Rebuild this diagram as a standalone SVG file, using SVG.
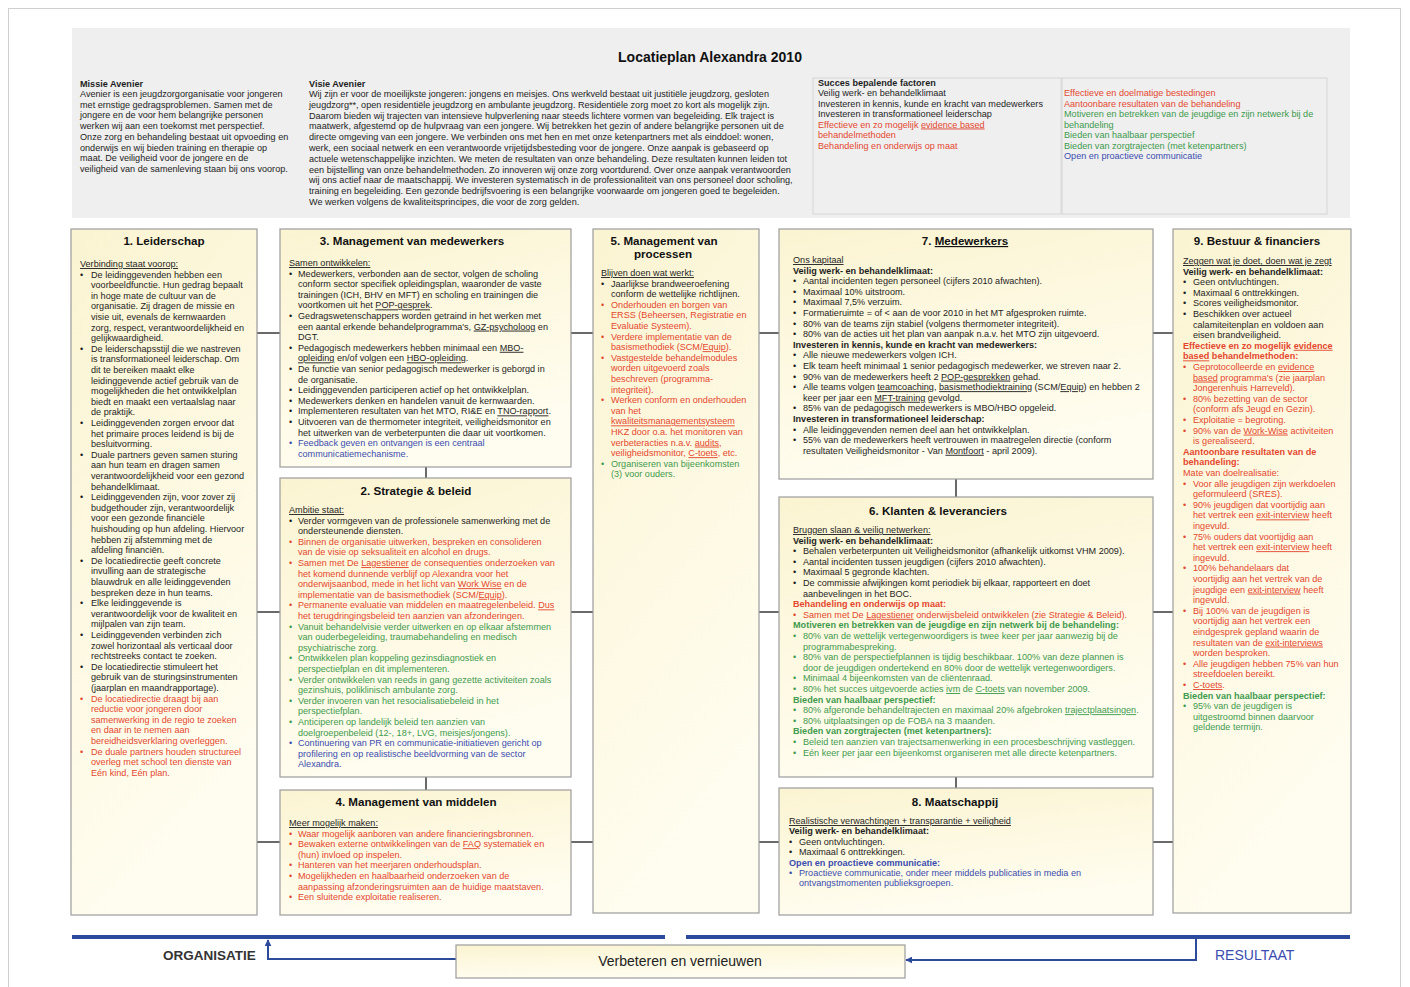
<svg xmlns="http://www.w3.org/2000/svg" width="1410" height="987" viewBox="0 0 1410 987">
<defs>
<linearGradient id="cream" x1="0" y1="0" x2="0.3" y2="1">
<stop offset="0" stop-color="#fbf4d2"/>
<stop offset="1" stop-color="#fffdf0"/>
</linearGradient>
<marker id="ah" viewBox="0 0 10 10" refX="9" refY="5" markerWidth="7" markerHeight="7" markerUnits="userSpaceOnUse" orient="auto">
<path d="M0,0 L10,5 L0,10 z" fill="#2d4b9b"/>
</marker>
<style>
.t{font-family:"Liberation Sans",Arial,sans-serif;font-size:9.1px;fill:#1e1e1e}
.hd{font-family:"Liberation Sans",Arial,sans-serif;font-size:11.6px;font-weight:bold;fill:#111;text-anchor:middle}
.b{font-weight:bold}
.r{fill:#e4472f}
.g{fill:#3d9a4e}
.u{fill:#3a4caf}
.ul{text-decoration:underline}
.sp{text-decoration:underline;text-decoration-color:#e03a3a}
.box{fill:url(#cream);stroke:#9c9c9c;stroke-width:1.2}
.con{stroke:#444;stroke-width:1.6;fill:none}
.flow{stroke:#2d4b9b;stroke-width:2;fill:none}
.bar{stroke:#2b4a9b;stroke-width:4}
</style>
</defs>
<rect x="0" y="0" width="1410" height="987" fill="#ffffff"/>
<rect x="8.5" y="8.5" width="1392" height="990" fill="none" stroke="#cfcfcf"/>

<g id="header">
<rect x="72" y="28" width="1278" height="190" fill="#efefef"/>
<rect x="813" y="78" width="248" height="136" fill="none" stroke="#d6d6d6"/>
<rect x="1062" y="78" width="265" height="136" fill="none" stroke="#d6d6d6"/>
<text x="710" y="62" font-family="Liberation Sans, Arial, sans-serif" font-size="14" font-weight="bold" fill="#111" text-anchor="middle">Locatieplan Alexandra 2010</text>
<text class="t" y="87">
<tspan x="80" class="b">Missie Avenier</tspan>
<tspan x="80" dy="10">Avenier is een jeugdzorgorganisatie voor jongeren</tspan>
<tspan x="80" dy="10.7">met ernstige gedragsproblemen. Samen met de</tspan>
<tspan x="80" dy="10.7">jongere en de voor hem belangrijke personen</tspan>
<tspan x="80" dy="10.7">werken wij aan een toekomst met perspectief.</tspan>
<tspan x="80" dy="10.7">Onze zorg en behandeling bestaat uit opvoeding en</tspan>
<tspan x="80" dy="10.7">onderwijs en wij bieden training en therapie op</tspan>
<tspan x="80" dy="10.7">maat.   De veiligheid voor de jongere en de</tspan>
<tspan x="80" dy="10.7">veiligheid van de samenleving staan bij ons voorop.</tspan>
</text>
<text class="t" y="87" font-size="9">
<tspan x="309" class="b">Visie Avenier</tspan>
<tspan x="309" dy="10">Wij zijn er voor de moeilijkste jongeren: jongens en meisjes. Ons werkveld bestaat uit justitiële jeugdzorg, gesloten</tspan>
<tspan x="309" dy="10.8">jeugdzorg**, open residentiële jeugdzorg en ambulante jeugdzorg. Residentiële zorg moet zo kort als mogelijk zijn.</tspan>
<tspan x="309" dy="10.8">Daarom bieden wij trajecten van intensieve hulpverlening naar steeds lichtere vormen van begeleiding. Elk traject is</tspan>
<tspan x="309" dy="10.8">maatwerk, afgestemd op de hulpvraag van een jongere. Wij betrekken het gezin of andere belangrijke personen uit de</tspan>
<tspan x="309" dy="10.8">directe omgeving van een jongere. We verbinden ons met hen en met onze ketenpartners met als einddoel: wonen,</tspan>
<tspan x="309" dy="10.8">werk, een sociaal netwerk en een verantwoorde vrijetijdsbesteding voor de jongere. Onze aanpak is gebaseerd op</tspan>
<tspan x="309" dy="10.8">actuele wetenschappelijke inzichten. We meten de resultaten van onze behandeling. Deze resultaten kunnen leiden tot</tspan>
<tspan x="309" dy="10.8">een bijstelling van onze behandelmethoden. Zo innoveren wij onze zorg voortdurend. Over onze aanpak verantwoorden</tspan>
<tspan x="309" dy="10.8">wij ons actief naar de maatschappij. We investeren systematisch in de professionaliteit van ons personeel door scholing,</tspan>
<tspan x="309" dy="10.8">training en begeleiding. Een gezonde bedrijfsvoering is een belangrijke voorwaarde om jongeren goed te begeleiden.</tspan>
<tspan x="309" dy="10.8">We werken volgens de kwaliteitsprincipes, die voor de zorg gelden.</tspan>
</text>
<text class="t" y="86">
<tspan x="818" class="b">Succes bepalende factoren</tspan>
<tspan x="818" dy="10">Veilig werk- en behandelklimaat</tspan>
<tspan x="818" dy="10.5">Investeren in kennis, kunde en kracht van medewerkers</tspan>
<tspan x="818" dy="10.5">Investeren in transformationeel leiderschap</tspan>
<tspan x="818" dy="10.5" class="r">Effectieve en zo mogelijk <tspan class="sp">evidence based</tspan></tspan>
<tspan x="818" dy="10.5" class="r">behandelmethoden</tspan>
<tspan x="818" dy="10.5" class="r">Behandeling en onderwijs op maat</tspan>
</text>
<text class="t" y="96">
<tspan x="1064" class="r">Effectieve en doelmatige bestedingen</tspan>
<tspan x="1064" dy="10.5" class="r">Aantoonbare resultaten van de behandeling</tspan>
<tspan x="1064" dy="10.5" class="g">Motiveren en betrekken van de jeugdige en zijn netwerk bij de</tspan>
<tspan x="1064" dy="10.5" class="g">behandeling</tspan>
<tspan x="1064" dy="10.5" class="g">Bieden van haalbaar perspectief</tspan>
<tspan x="1064" dy="10.5" class="g">Bieden van zorgtrajecten (met ketenpartners)</tspan>
<tspan x="1064" dy="10.5" class="u">Open en proactieve communicatie</tspan>
</text>
</g>

<g id="connectors">
<line class="con" x1="257" y1="333" x2="280" y2="333"/>
<line class="con" x1="257" y1="612" x2="280" y2="612"/>
<line class="con" x1="257" y1="842" x2="280" y2="842"/>
<line class="con" x1="571" y1="333" x2="593" y2="333"/>
<line class="con" x1="571" y1="612" x2="593" y2="612"/>
<line class="con" x1="571" y1="842" x2="593" y2="842"/>
<line class="con" x1="759" y1="333" x2="779" y2="333"/>
<line class="con" x1="759" y1="612" x2="779" y2="612"/>
<line class="con" x1="759" y1="842" x2="779" y2="842"/>
<line class="con" x1="1153" y1="333" x2="1173" y2="333"/>
<line class="con" x1="1153" y1="612" x2="1173" y2="612"/>
<line class="con" x1="1153" y1="842" x2="1173" y2="842"/>
<line class="con" x1="426" y1="467" x2="426" y2="478"/>
<line class="con" x1="426" y1="777" x2="426" y2="790"/>
<line class="con" x1="956" y1="479" x2="956" y2="497"/>
<line class="con" x1="956" y1="777" x2="956" y2="788"/>
<line class="bar" x1="72" y1="937" x2="665" y2="937"/>
<line class="bar" x1="686" y1="937" x2="1350" y2="937"/>
<path class="flow" d="M1196 939 V960 H906" marker-end="url(#ah)"/>
<path class="flow" d="M456 959 H268 V940" marker-end="url(#ah)"/>
</g>

<g id="n1">
<rect class="box" x="71" y="229" width="186" height="686"/>
<text class="hd" x="164" y="245">1. Leiderschap</text>
<text class="t" y="267">
<tspan x="80" class="ul">Verbinding staat voorop:</tspan>
<tspan x="80" dy="10.6">•</tspan><tspan x="91">De leidinggevenden hebben een</tspan>
<tspan x="91" dy="10.6">voorbeeldfunctie. Hun gedrag bepaalt</tspan>
<tspan x="91" dy="10.6">in hoge mate de cultuur van de</tspan>
<tspan x="91" dy="10.6">organisatie. Zij dragen de missie en</tspan>
<tspan x="91" dy="10.6">visie uit, evenals de kernwaarden</tspan>
<tspan x="91" dy="10.6">zorg, respect, verantwoordelijkheid en</tspan>
<tspan x="91" dy="10.6">gelijkwaardigheid.</tspan>
<tspan x="80" dy="10.6">•</tspan><tspan x="91">De leiderschapsstijl die we nastreven</tspan>
<tspan x="91" dy="10.6">is transformationeel leiderschap. Om</tspan>
<tspan x="91" dy="10.6">dit te bereiken maakt elke</tspan>
<tspan x="91" dy="10.6">leidinggevende actief gebruik van de</tspan>
<tspan x="91" dy="10.6">mogelijkheden die het ontwikkelplan</tspan>
<tspan x="91" dy="10.6">biedt en maakt een vertaalslag naar</tspan>
<tspan x="91" dy="10.6">de praktijk.</tspan>
<tspan x="80" dy="10.6">•</tspan><tspan x="91">Leidinggevenden zorgen ervoor dat</tspan>
<tspan x="91" dy="10.6">het primaire proces leidend is bij de</tspan>
<tspan x="91" dy="10.6">besluitvorming.</tspan>
<tspan x="80" dy="10.6">•</tspan><tspan x="91">Duale partners geven samen sturing</tspan>
<tspan x="91" dy="10.6">aan hun team en dragen samen</tspan>
<tspan x="91" dy="10.6">verantwoordelijkheid voor een gezond</tspan>
<tspan x="91" dy="10.6">behandelklimaat.</tspan>
<tspan x="80" dy="10.6">•</tspan><tspan x="91">Leidinggevenden zijn, voor zover zij</tspan>
<tspan x="91" dy="10.6">budgethouder zijn, verantwoordelijk</tspan>
<tspan x="91" dy="10.6">voor een gezonde financiële</tspan>
<tspan x="91" dy="10.6">huishouding op hun afdeling. Hiervoor</tspan>
<tspan x="91" dy="10.6">hebben zij afstemming met de</tspan>
<tspan x="91" dy="10.6">afdeling financiën.</tspan>
<tspan x="80" dy="10.6">•</tspan><tspan x="91">De locatiedirectie geeft concrete</tspan>
<tspan x="91" dy="10.6">invulling aan de strategische</tspan>
<tspan x="91" dy="10.6">blauwdruk en alle leidinggevenden</tspan>
<tspan x="91" dy="10.6">bespreken deze in hun teams.</tspan>
<tspan x="80" dy="10.6">•</tspan><tspan x="91">Elke leidinggevende is</tspan>
<tspan x="91" dy="10.6">verantwoordelijk voor de kwaliteit en</tspan>
<tspan x="91" dy="10.6">mijlpalen van zijn team.</tspan>
<tspan x="80" dy="10.6">•</tspan><tspan x="91">Leidinggevenden verbinden zich</tspan>
<tspan x="91" dy="10.6">zowel horizontaal als verticaal door</tspan>
<tspan x="91" dy="10.6">rechtstreeks contact te zoeken.</tspan>
<tspan x="80" dy="10.6">•</tspan><tspan x="91">De locatiedirectie stimuleert het</tspan>
<tspan x="91" dy="10.6">gebruik van de sturingsinstrumenten</tspan>
<tspan x="91" dy="10.6">(jaarplan en maandrapportage).</tspan>
<tspan x="80" dy="10.6" class="r">•</tspan><tspan x="91" class="r">De locatiedirectie draagt bij aan</tspan>
<tspan x="91" dy="10.6" class="r">reductie voor jongeren door</tspan>
<tspan x="91" dy="10.6" class="r">samenwerking in de regio te zoeken</tspan>
<tspan x="91" dy="10.6" class="r">en daar in te nemen aan</tspan>
<tspan x="91" dy="10.6" class="r">bereidheidsverklaring overleggen.</tspan>
<tspan x="80" dy="10.6" class="r">•</tspan><tspan x="91" class="r">De duale partners houden structureel</tspan>
<tspan x="91" dy="10.6" class="r">overleg met school ten dienste van</tspan>
<tspan x="91" dy="10.6" class="r">Eén kind, Eén plan.</tspan>
</text>
</g>

<g id="n3">
<rect class="box" x="280" y="229" width="291" height="238"/>
<text class="hd" x="412" y="245">3. Management van medewerkers</text>
<text class="t" y="266">
<tspan x="289" class="ul">Samen ontwikkelen:</tspan>
<tspan x="289" dy="10.6">•</tspan><tspan x="298">Medewerkers, verbonden aan de sector, volgen de scholing</tspan>
<tspan x="298" dy="10.6">conform sector specifiek opleidingsplan, waaronder de vaste</tspan>
<tspan x="298" dy="10.6">trainingen (ICH, BHV en MFT) en scholing en trainingen die</tspan>
<tspan x="298" dy="10.6">voortkomen uit het <tspan class="sp">POP-gesprek</tspan>.</tspan>
<tspan x="289" dy="10.6">•</tspan><tspan x="298">Gedragswetenschappers worden getraind in het werken met</tspan>
<tspan x="298" dy="10.6">een aantal erkende behandelprogramma's, <tspan class="sp">GZ-psycholoog</tspan> en</tspan>
<tspan x="298" dy="10.6">DGT.</tspan>
<tspan x="289" dy="10.6">•</tspan><tspan x="298">Pedagogisch medewerkers hebben minimaal een <tspan class="sp">MBO-</tspan></tspan>
<tspan x="298" dy="10.6"><tspan class="sp">opleiding</tspan> en/of volgen een <tspan class="sp">HBO-opleiding</tspan>.</tspan>
<tspan x="289" dy="10.6">•</tspan><tspan x="298">De functie van senior pedagogisch medewerker is geborgd in</tspan>
<tspan x="298" dy="10.6">de organisatie.</tspan>
<tspan x="289" dy="10.6">•</tspan><tspan x="298">Leidinggevenden participeren actief op het ontwikkelplan.</tspan>
<tspan x="289" dy="10.6">•</tspan><tspan x="298">Medewerkers denken en handelen vanuit de kernwaarden.</tspan>
<tspan x="289" dy="10.6">•</tspan><tspan x="298">Implementeren resultaten van het MTO, RI&amp;E en <tspan class="sp">TNO-rapport</tspan>.</tspan>
<tspan x="289" dy="10.6">•</tspan><tspan x="298">Uitvoeren van de thermometer integriteit, veiligheidsmonitor en</tspan>
<tspan x="298" dy="10.6">het uitwerken van de verbeterpunten die daar uit voortkomen.</tspan>
<tspan x="289" dy="10.6" class="u">•</tspan><tspan x="298" class="u">Feedback geven en ontvangen is een centraal</tspan>
<tspan x="298" dy="10.6" class="u">communicatiemechanisme.</tspan>
</text>
</g>

<g id="n2">
<rect class="box" x="280" y="478" width="291" height="299"/>
<text class="hd" x="416" y="495">2. Strategie &amp; beleid</text>
<text class="t" y="513">
<tspan x="289" class="ul">Ambitie staat:</tspan>
<tspan x="289" dy="10.6">•</tspan><tspan x="298">Verder vormgeven van de professionele samenwerking met de</tspan>
<tspan x="298" dy="10.6">ondersteunende diensten.</tspan>
<tspan x="289" dy="10.6" class="r">•</tspan><tspan x="298" class="r">Binnen de organisatie uitwerken, bespreken en consolideren</tspan>
<tspan x="298" dy="10.6" class="r">van de visie op seksualiteit en alcohol en drugs.</tspan>
<tspan x="289" dy="10.6" class="r">•</tspan><tspan x="298" class="r">Samen met De <tspan class="sp">Lagestiener</tspan> de consequenties onderzoeken van</tspan>
<tspan x="298" dy="10.6" class="r">het komend dunnende verblijf op Alexandra voor het</tspan>
<tspan x="298" dy="10.6" class="r">onderwijsaanbod, mede in het licht van <tspan class="sp">Work Wise</tspan> en de</tspan>
<tspan x="298" dy="10.6" class="r">implementatie van de basismethodiek (SCM/<tspan class="sp">Equip</tspan>).</tspan>
<tspan x="289" dy="10.6" class="r">•</tspan><tspan x="298" class="r">Permanente evaluatie van middelen en maatregelenbeleid. <tspan class="sp">Dus</tspan></tspan>
<tspan x="298" dy="10.6" class="r">het terugdringingsbeleid ten aanzien van afzonderingen.</tspan>
<tspan x="289" dy="10.6" class="g">•</tspan><tspan x="298" class="g">Vanuit behandelvisie verder uitwerken en op elkaar afstemmen</tspan>
<tspan x="298" dy="10.6" class="g">van ouderbegeleiding, traumabehandeling en medisch</tspan>
<tspan x="298" dy="10.6" class="g">psychiatrische zorg.</tspan>
<tspan x="289" dy="10.6" class="g">•</tspan><tspan x="298" class="g">Ontwikkelen plan koppeling gezinsdiagnostiek en</tspan>
<tspan x="298" dy="10.6" class="g">perspectiefplan en dit implementeren.</tspan>
<tspan x="289" dy="10.6" class="g">•</tspan><tspan x="298" class="g">Verder ontwikkelen van reeds in gang gezette activiteiten zoals</tspan>
<tspan x="298" dy="10.6" class="g">gezinshuis, poliklinisch ambulante zorg.</tspan>
<tspan x="289" dy="10.6" class="g">•</tspan><tspan x="298" class="g">Verder invoeren van het resocialisatiebeleid in het</tspan>
<tspan x="298" dy="10.6" class="g">perspectiefplan.</tspan>
<tspan x="289" dy="10.6" class="g">•</tspan><tspan x="298" class="g">Anticiperen op landelijk beleid ten aanzien van</tspan>
<tspan x="298" dy="10.6" class="g">doelgroepenbeleid (12-, 18+, LVG, meisjes/jongens).</tspan>
<tspan x="289" dy="10.6" class="u">•</tspan><tspan x="298" class="u">Continuering van PR en communicatie-initiatieven gericht op</tspan>
<tspan x="298" dy="10.6" class="u">profilering en op realistische beeldvorming van de sector</tspan>
<tspan x="298" dy="10.6" class="u">Alexandra.</tspan>
</text>
</g>

<g id="n4">
<rect class="box" x="280" y="790" width="291" height="125"/>
<text class="hd" x="416" y="806">4. Management van middelen</text>
<text class="t" y="826">
<tspan x="289" class="ul">Meer mogelijk maken:</tspan>
<tspan x="289" dy="10.6" class="r">•</tspan><tspan x="298" class="r">Waar mogelijk aanboren van andere financieringsbronnen.</tspan>
<tspan x="289" dy="10.6" class="r">•</tspan><tspan x="298" class="r">Bewaken externe ontwikkelingen van de <tspan class="sp">FAQ</tspan> systematiek en</tspan>
<tspan x="298" dy="10.6" class="r">(hun) invloed op inspelen.</tspan>
<tspan x="289" dy="10.6" class="r">•</tspan><tspan x="298" class="r">Hanteren van het meerjaren onderhoudsplan.</tspan>
<tspan x="289" dy="10.6" class="r">•</tspan><tspan x="298" class="r">Mogelijkheden en haalbaarheid onderzoeken van de</tspan>
<tspan x="298" dy="10.6" class="r">aanpassing afzonderingsruimten aan de huidige maatstaven.</tspan>
<tspan x="289" dy="10.6" class="r">•</tspan><tspan x="298" class="r">Een sluitende exploitatie realiseren.</tspan>
</text>
</g>

<g id="n5">
<rect class="box" x="593" y="229" width="166" height="684"/>
<text class="hd" x="664" y="245">5. Management van</text>
<text class="hd" x="663" y="258">processen</text>
<text class="t" y="276">
<tspan x="601" class="ul">Blijven doen wat werkt:</tspan>
<tspan x="601" dy="10.6">•</tspan><tspan x="611">Jaarlijkse brandweeroefening</tspan>
<tspan x="611" dy="10.6">conform de wettelijke richtlijnen.</tspan>
<tspan x="601" dy="10.6" class="r">•</tspan><tspan x="611" class="r">Onderhouden en borgen van</tspan>
<tspan x="611" dy="10.6" class="r">ERSS (Beheersen, Registratie en</tspan>
<tspan x="611" dy="10.6" class="r">Evaluatie Systeem).</tspan>
<tspan x="601" dy="10.6" class="r">•</tspan><tspan x="611" class="r">Verdere implementatie van de</tspan>
<tspan x="611" dy="10.6" class="r">basismethodiek (SCM/<tspan class="sp">Equip</tspan>).</tspan>
<tspan x="601" dy="10.6" class="r">•</tspan><tspan x="611" class="r">Vastgestelde behandelmodules</tspan>
<tspan x="611" dy="10.6" class="r">worden uitgevoerd zoals</tspan>
<tspan x="611" dy="10.6" class="r">beschreven (programma-</tspan>
<tspan x="611" dy="10.6" class="r">integriteit).</tspan>
<tspan x="601" dy="10.6" class="r">•</tspan><tspan x="611" class="r">Werken conform en onderhouden</tspan>
<tspan x="611" dy="10.6" class="r">van het</tspan>
<tspan x="611" dy="10.6" class="r"><tspan class="sp">kwaliteitsmanagementsysteem</tspan></tspan>
<tspan x="611" dy="10.6" class="r">HKZ door o.a. het monitoren van</tspan>
<tspan x="611" dy="10.6" class="r">verbeteracties n.a.v. <tspan class="sp">audits</tspan>,</tspan>
<tspan x="611" dy="10.6" class="r">veiligheidsmonitor, <tspan class="sp">C-toets</tspan>, etc.</tspan>
<tspan x="601" dy="10.6" class="g">•</tspan><tspan x="611" class="g">Organiseren van bijeenkomsten</tspan>
<tspan x="611" dy="10.6" class="g">(3) voor ouders.</tspan>
</text>
</g>

<g id="n7">
<rect class="box" x="779" y="229" width="374" height="250"/>
<text class="hd" x="965" y="245">7. <tspan class="sp">Medewerkers</tspan></text>
<text class="t" y="263">
<tspan x="793" class="ul">Ons kapitaal</tspan>
<tspan x="793" dy="10.6" class="b">Veilig werk- en behandelklimaat:</tspan>
<tspan x="793" dy="10.6">•</tspan><tspan x="803">Aantal incidenten tegen personeel (cijfers 2010 afwachten).</tspan>
<tspan x="793" dy="10.6">•</tspan><tspan x="803">Maximaal 10% uitstroom.</tspan>
<tspan x="793" dy="10.6">•</tspan><tspan x="803">Maximaal 7,5% verzuim.</tspan>
<tspan x="793" dy="10.6">•</tspan><tspan x="803">Formatieruimte = of &lt; aan de voor 2010 in het MT afgesproken ruimte.</tspan>
<tspan x="793" dy="10.6">•</tspan><tspan x="803">80% van de teams zijn stabiel (volgens thermometer integriteit).</tspan>
<tspan x="793" dy="10.6">•</tspan><tspan x="803">80% van de acties uit het plan van aanpak n.a.v. het MTO zijn uitgevoerd.</tspan>
<tspan x="793" dy="10.6" class="b">Investeren in kennis, kunde en kracht van medewerkers:</tspan>
<tspan x="793" dy="10.6">•</tspan><tspan x="803">Alle nieuwe medewerkers volgen ICH.</tspan>
<tspan x="793" dy="10.6">•</tspan><tspan x="803">Elk team heeft minimaal 1 senior pedagogisch medewerker, we streven naar 2.</tspan>
<tspan x="793" dy="10.6">•</tspan><tspan x="803">90% van de medewerkers heeft 2 <tspan class="sp">POP-gesprekken</tspan> gehad.</tspan>
<tspan x="793" dy="10.6">•</tspan><tspan x="803">Alle teams volgen <tspan class="sp">teamcoaching</tspan>, <tspan class="sp">basismethodiektraining</tspan> (SCM/<tspan class="sp">Equip</tspan>) en hebben 2</tspan>
<tspan x="803" dy="10.6">keer per jaar een <tspan class="sp">MFT-training</tspan> gevolgd.</tspan>
<tspan x="793" dy="10.6">•</tspan><tspan x="803">85% van de pedagogisch medewerkers is MBO/HBO opgeleid.</tspan>
<tspan x="793" dy="10.6" class="b">Investeren in transformationeel leiderschap:</tspan>
<tspan x="793" dy="10.6">•</tspan><tspan x="803">Alle leidinggevenden nemen deel aan het ontwikkelplan.</tspan>
<tspan x="793" dy="10.6">•</tspan><tspan x="803">55% van de medewerkers heeft vertrouwen in maatregelen directie (conform</tspan>
<tspan x="803" dy="10.6">resultaten Veiligheidsmonitor - Van <tspan class="sp">Montfoort</tspan> - april 2009).</tspan>
</text>
</g>

<g id="n6">
<rect class="box" x="779" y="497" width="374" height="280"/>
<text class="hd" x="938" y="515">6. Klanten &amp; leveranciers</text>
<text class="t" y="533">
<tspan x="793" class="ul">Bruggen slaan &amp; veilig netwerken:</tspan>
<tspan x="793" dy="10.6" class="b">Veilig werk- en behandelklimaat:</tspan>
<tspan x="793" dy="10.6">•</tspan><tspan x="803">Behalen verbeterpunten uit Veiligheidsmonitor (afhankelijk uitkomst VHM 2009).</tspan>
<tspan x="793" dy="10.6">•</tspan><tspan x="803">Aantal incidenten tussen jeugdigen (cijfers 2010 afwachten).</tspan>
<tspan x="793" dy="10.6">•</tspan><tspan x="803">Maximaal 5 gegronde klachten.</tspan>
<tspan x="793" dy="10.6">•</tspan><tspan x="803">De commissie afwijkingen komt periodiek bij elkaar, rapporteert en doet</tspan>
<tspan x="803" dy="10.6">aanbevelingen in het BOC.</tspan>
<tspan x="793" dy="10.6" class="b r">Behandeling en onderwijs op maat:</tspan>
<tspan x="793" dy="10.6" class="r">•</tspan><tspan x="803" class="r">Samen met De <tspan class="sp">Lagestiener</tspan> onderwijsbeleid ontwikkelen (zie Strategie &amp; Beleid).</tspan>
<tspan x="793" dy="10.6" class="b g">Motiveren en betrekken van de jeugdige en zijn netwerk bij de behandeling:</tspan>
<tspan x="793" dy="10.6" class="g">•</tspan><tspan x="803" class="g">80% van de wettelijk vertegenwoordigers is twee keer per jaar aanwezig bij de</tspan>
<tspan x="803" dy="10.6" class="g">programmabespreking.</tspan>
<tspan x="793" dy="10.6" class="g">•</tspan><tspan x="803" class="g">80% van de perspectiefplannen is tijdig beschikbaar. 100% van deze plannen is</tspan>
<tspan x="803" dy="10.6" class="g">door de jeugdigen ondertekend en 80% door de wettelijk vertegenwoordigers.</tspan>
<tspan x="793" dy="10.6" class="g">•</tspan><tspan x="803" class="g">Minimaal 4 bijeenkomsten van de cliëntenraad.</tspan>
<tspan x="793" dy="10.6" class="g">•</tspan><tspan x="803" class="g">80% het succes uitgevoerde acties <tspan class="sp">ivm</tspan> de <tspan class="sp">C-toets</tspan> van november 2009.</tspan>
<tspan x="793" dy="10.6" class="b g">Bieden van haalbaar perspectief:</tspan>
<tspan x="793" dy="10.6" class="g">•</tspan><tspan x="803" class="g">80% afgeronde behandeltrajecten en maximaal 20% afgebroken <tspan class="sp">trajectplaatsingen</tspan>.</tspan>
<tspan x="793" dy="10.6" class="g">•</tspan><tspan x="803" class="g">80% uitplaatsingen op de FOBA na 3 maanden.</tspan>
<tspan x="793" dy="10.6" class="b g">Bieden van zorgtrajecten (met ketenpartners):</tspan>
<tspan x="793" dy="10.6" class="g">•</tspan><tspan x="803" class="g">Beleid ten aanzien van trajectsamenwerking in een procesbeschrijving vastleggen.</tspan>
<tspan x="793" dy="10.6" class="g">•</tspan><tspan x="803" class="g">Eén keer per jaar een bijeenkomst organiseren met alle directe ketenpartners.</tspan>
</text>
</g>

<g id="n8">
<rect class="box" x="779" y="788" width="374" height="127"/>
<text class="hd" x="955" y="806">8. Maatschappij</text>
<text class="t" y="824">
<tspan x="789" class="ul">Realistische verwachtingen + transparantie + veiligheid</tspan>
<tspan x="789" dy="10.4" class="b">Veilig werk- en behandelklimaat:</tspan>
<tspan x="789" dy="10.4">•</tspan><tspan x="799">Geen ontvluchtingen.</tspan>
<tspan x="789" dy="10.4">•</tspan><tspan x="799">Maximaal 6 onttrekkingen.</tspan>
<tspan x="789" dy="10.4" class="b u">Open en proactieve communicatie:</tspan>
<tspan x="789" dy="10.4" class="u">•</tspan><tspan x="799" class="u">Proactieve communicatie, onder meer middels publicaties in media en</tspan>
<tspan x="799" dy="10.4" class="u">ontvangstmomenten publieksgroepen.</tspan>
</text>
</g>

<g id="n9">
<rect class="box" x="1173" y="229" width="178" height="684"/>
<text class="hd" x="1257" y="245">9. Bestuur &amp; financiers</text>
<text class="t" y="264">
<tspan x="1183" class="ul">Zeggen wat je doet, doen wat je zegt</tspan>
<tspan x="1183" dy="10.6" class="b">Veilig werk- en behandelklimaat:</tspan>
<tspan x="1183" dy="10.6">•</tspan><tspan x="1193">Geen ontvluchtingen.</tspan>
<tspan x="1183" dy="10.6">•</tspan><tspan x="1193">Maximaal 6 onttrekkingen.</tspan>
<tspan x="1183" dy="10.6">•</tspan><tspan x="1193">Scores veiligheidsmonitor.</tspan>
<tspan x="1183" dy="10.6">•</tspan><tspan x="1193">Beschikken over actueel</tspan>
<tspan x="1193" dy="10.6">calamiteitenplan en voldoen aan</tspan>
<tspan x="1193" dy="10.6">eisen brandveiligheid.</tspan>
<tspan x="1183" dy="10.6" class="b r">Effectieve en zo mogelijk <tspan class="sp">evidence</tspan></tspan>
<tspan x="1183" dy="10.6" class="b r"><tspan class="sp">based</tspan> behandelmethoden:</tspan>
<tspan x="1183" dy="10.6" class="r">•</tspan><tspan x="1193" class="r">Geprotocolleerde en <tspan class="sp">evidence</tspan></tspan>
<tspan x="1193" dy="10.6" class="r"><tspan class="sp">based</tspan> programma's (zie jaarplan</tspan>
<tspan x="1193" dy="10.6" class="r">Jongerenhuis Harreveld).</tspan>
<tspan x="1183" dy="10.6" class="r">•</tspan><tspan x="1193" class="r">80% bezetting van de sector</tspan>
<tspan x="1193" dy="10.6" class="r">(conform afs Jeugd en Gezin).</tspan>
<tspan x="1183" dy="10.6" class="r">•</tspan><tspan x="1193" class="r">Exploitatie = begroting.</tspan>
<tspan x="1183" dy="10.6" class="r">•</tspan><tspan x="1193" class="r">90% van de <tspan class="sp">Work-Wise</tspan> activiteiten</tspan>
<tspan x="1193" dy="10.6" class="r">is gerealiseerd.</tspan>
<tspan x="1183" dy="10.6" class="b r">Aantoonbare resultaten van de</tspan>
<tspan x="1183" dy="10.6" class="b r">behandeling:</tspan>
<tspan x="1183" dy="10.6" class="r">Mate van doelrealisatie:</tspan>
<tspan x="1183" dy="10.6" class="r">•</tspan><tspan x="1193" class="r">Voor alle jeugdigen zijn werkdoelen</tspan>
<tspan x="1193" dy="10.6" class="r">geformuleerd (SRES).</tspan>
<tspan x="1183" dy="10.6" class="r">•</tspan><tspan x="1193" class="r">90% jeugdigen dat voortijdig aan</tspan>
<tspan x="1193" dy="10.6" class="r">het vertrek een <tspan class="sp">exit-interview</tspan> heeft</tspan>
<tspan x="1193" dy="10.6" class="r">ingevuld.</tspan>
<tspan x="1183" dy="10.6" class="r">•</tspan><tspan x="1193" class="r">75% ouders dat voortijdig aan</tspan>
<tspan x="1193" dy="10.6" class="r">het vertrek een <tspan class="sp">exit-interview</tspan> heeft</tspan>
<tspan x="1193" dy="10.6" class="r">ingevuld.</tspan>
<tspan x="1183" dy="10.6" class="r">•</tspan><tspan x="1193" class="r">100% behandelaars dat</tspan>
<tspan x="1193" dy="10.6" class="r">voortijdig aan het vertrek van de</tspan>
<tspan x="1193" dy="10.6" class="r">jeugdige een <tspan class="sp">exit-interview</tspan> heeft</tspan>
<tspan x="1193" dy="10.6" class="r">ingevuld.</tspan>
<tspan x="1183" dy="10.6" class="r">•</tspan><tspan x="1193" class="r">Bij 100% van de jeugdigen is</tspan>
<tspan x="1193" dy="10.6" class="r">voortijdig aan het vertrek een</tspan>
<tspan x="1193" dy="10.6" class="r">eindgesprek gepland waarin de</tspan>
<tspan x="1193" dy="10.6" class="r">resultaten van de <tspan class="sp">exit-interviews</tspan></tspan>
<tspan x="1193" dy="10.6" class="r">worden besproken.</tspan>
<tspan x="1183" dy="10.6" class="r">•</tspan><tspan x="1193" class="r">Alle jeugdigen hebben 75% van hun</tspan>
<tspan x="1193" dy="10.6" class="r">streefdoelen bereikt.</tspan>
<tspan x="1183" dy="10.6" class="r">•</tspan><tspan x="1193" class="r"><tspan class="sp">C-toets</tspan>.</tspan>
<tspan x="1183" dy="10.6" class="b g">Bieden van haalbaar perspectief:</tspan>
<tspan x="1183" dy="10.6" class="g">•</tspan><tspan x="1193" class="g">95% van de jeugdigen is</tspan>
<tspan x="1193" dy="10.6" class="g">uitgestroomd binnen daarvoor</tspan>
<tspan x="1193" dy="10.6" class="g">geldende termijn.</tspan>
</text>
</g>

<g id="n10">
<rect class="box" x="456" y="945" width="449" height="33"/>
<text x="680" y="966" font-family="Liberation Sans, Arial, sans-serif" font-size="14" fill="#222" text-anchor="middle">Verbeteren en vernieuwen</text>
</g>
<g id="labels">
<text x="163" y="960" font-family="Liberation Sans, Arial, sans-serif" font-size="13.5" font-weight="bold" fill="#333">ORGANISATIE</text>
<text x="1215" y="960" font-family="Liberation Sans, Arial, sans-serif" font-size="14" fill="#3a4caf">RESULTAAT</text>
</g>
</svg>
